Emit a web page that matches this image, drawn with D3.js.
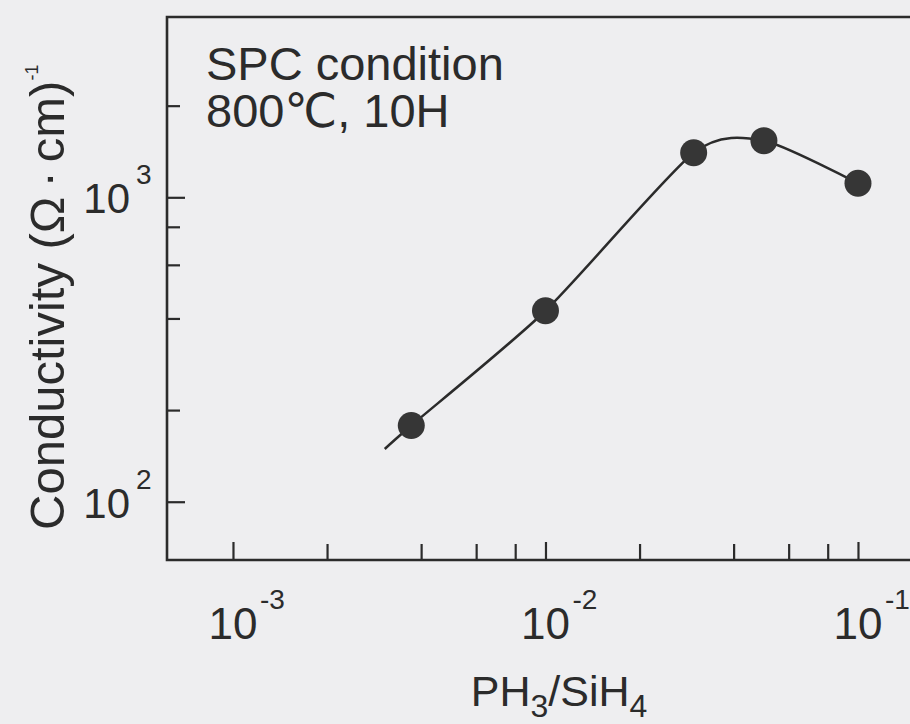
<!DOCTYPE html>
<html>
<head>
<meta charset="utf-8">
<script src="https://cdn.jsdelivr.net/npm/d3@7"></script>
<style>
  html, body { margin: 0; padding: 0; background: #eeeef0; }
  svg { display: block; overflow: hidden; }
  text { font-family: "Liberation Sans", Arial, "DejaVu Sans", sans-serif; fill: #2b2b2b; }
</style>
</head>
<body>
<div id="chart"></div>
<script>
// PH3/SiH4 ratio vs conductivity (measured points)
const ratio = [3.72e-3, 1.0e-2, 2.98e-2, 5.0e-2, 1.0e-1];
const conductivity = [178, 424, 1400, 1535, 1112];

// guide curve drawn through the points (starts a little before the first one)
const fitRatio = [3.06e-3, 3.72e-3, 1.0e-2, 2.98e-2, 5.0e-2, 1.0e-1];
const fitConductivity = [149, 178, 424, 1400, 1535, 1112];

// ticks
const xMajor = [1e-3, 1e-2, 1e-1];
const xMajorExp = ["-3", "-2", "-1"];
const xMinor = [2e-3, 4e-3, 6e-3, 8e-3, 2e-2, 4e-2, 6e-2, 8e-2];
const yMajor = [1e2, 1e3];
const yMajorExp = ["2", "3"];
const yMinor = [200, 400, 600, 800, 2000];

const annotation = ["SPC condition", "800\u2103, 10H"];

var W = 910, H = 724,
    plot = {left: 167, top: 17, right: 940, bottom: 560},
    ink = "#2b2b2b";

var svg = d3.select("#chart")
    .append("svg")
        .attr("width", W)
        .attr("height", H);

svg.append("rect")
    .attr("width", W).attr("height", H)
    .attr("fill", "#eeeef0");

var x = d3.scaleLog()
    .domain([6.15e-4, 0.183])
    .range([plot.left, plot.right]);

var y = d3.scaleLog()
    .domain([64.35, 3911])
    .range([plot.bottom, plot.top]);

// ticks point into the plot
function tickAxis(axis, len, pos) {
    var g = svg.append("g")
        .attr("transform", pos)
        .call(axis.tickSize(-len).tickFormat(""));
    g.select(".domain").remove();
    g.selectAll("line").attr("stroke", ink).attr("stroke-width", 2.2);
    return g;
}
tickAxis(d3.axisBottom(x).tickValues(xMajor), 18, "translate(0," + plot.bottom + ")");
tickAxis(d3.axisBottom(x).tickValues(xMinor), 16, "translate(0," + plot.bottom + ")");
tickAxis(d3.axisLeft(y).tickValues(yMajor), 18, "translate(" + plot.left + ",0)");
tickAxis(d3.axisLeft(y).tickValues(yMinor), 13, "translate(" + plot.left + ",0)");

// frame (left, top, bottom; right side runs off the page)
svg.append("path")
    .attr("d", "M" + plot.right + "," + plot.top + "H" + plot.left + "V" + plot.bottom + "H" + plot.right)
    .attr("fill", "none")
    .attr("stroke", ink)
    .attr("stroke-width", 2.6);

// x tick labels 10^n
xMajor.forEach(function(v, i) {
    svg.append("text")
        .attr("x", x(v)).attr("y", 639)
        .attr("text-anchor", "middle")
        .style("font-size", "44px")
        .text("10");
    svg.append("text")
        .attr("x", x(v) + 27).attr("y", 609)
        .style("font-size", "28px")
        .text(xMajorExp[i]);
});

// y tick labels 10^n
yMajor.forEach(function(v, i) {
    svg.append("text")
        .attr("x", 130).attr("y", y(v) + 16)
        .attr("text-anchor", "end")
        .style("font-size", "42px")
        .text("10");
    svg.append("text")
        .attr("x", 136).attr("y", y(v) - 13)
        .style("font-size", "28px")
        .text(yMajorExp[i]);
});

// axis titles
var xt = svg.append("text")
    .attr("x", 559).attr("y", 706)
    .attr("text-anchor", "middle")
    .style("font-size", "43px");
xt.append("tspan").text("PH");
xt.append("tspan").attr("dy", 11).style("font-size", "32px").text("3");
xt.append("tspan").attr("dy", -11).text("/SiH");
xt.append("tspan").attr("dy", 11).style("font-size", "32px").text("4");

var yt = svg.append("text")
    .attr("transform", "translate(64,530) rotate(-90)")
    .style("font-size", "49px");
yt.append("tspan").text("Conductivity (\u03A9");
yt.append("tspan").attr("dx", 9).text("\u00B7");
yt.append("tspan").attr("dx", 9).text("cm)");
yt.append("tspan").attr("dy", -26).style("font-size", "18px").text("-1");

// annotation (two lines in one text block)
var note = svg.append("text")
    .attr("x", 206).attr("y", 80)
    .style("font-size", "47px");
note.selectAll("tspan")
    .data(annotation)
    .join("tspan")
        .attr("x", 206)
        .attr("dy", function(d, i){ return i === 0 ? 0 : 47; })
        .text(function(d){ return d; });

// guide curve
var line = d3.line()
    .x(function(d){ return x(d.r); })
    .y(function(d){ return y(d.c); })
    .curve(d3.curveCardinal.tension(0.3));

var fit = fitRatio.map(function(r, i){ return {r: r, c: fitConductivity[i]}; });
svg.append("path")
    .attr("d", line(fit))
    .attr("fill", "none")
    .attr("stroke", ink)
    .attr("stroke-width", 2.5);

// measured points
var pts = ratio.map(function(r, i){ return {r: r, c: conductivity[i]}; });
svg.append("g")
    .selectAll("circle")
    .data(pts)
    .join("circle")
        .attr("cx", function(d){ return x(d.r); })
        .attr("cy", function(d){ return y(d.c); })
        .attr("r", 13.5)
        .attr("fill", "#363636");
</script>
</body>
</html>
